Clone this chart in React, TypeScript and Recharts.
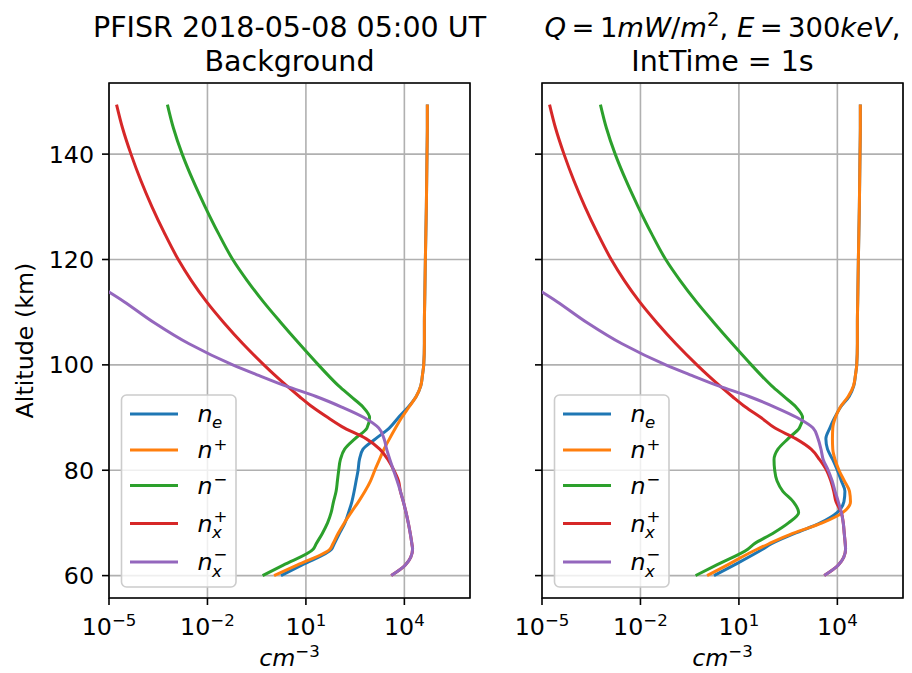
import React from 'react';
import { LineChart, Line, XAxis, YAxis, CartesianGrid, ReferenceArea } from 'recharts';

// Altitude grid (km)
const altitudes = [60, 62, 65, 66, 68, 70, 72, 74, 76, 78, 80, 82, 84, 86, 88, 90, 92, 94, 96, 98, 100, 104, 108, 112, 116, 120, 125, 130, 135, 140, 145, 149.4];

// Values, stored as log10(cm^-3)
// Left panel: PFISR background
const leftNe = [0.24, 0.87, 1.78, 1.86, 2.02, 2.19, 2.30, 2.40, 2.47, 2.53, 2.59, 2.63, 2.74, 3.13, 3.54, 3.82, 4.12, 4.36, 4.50, 4.55, 4.59, 4.61, 4.61, 4.62, 4.63, 4.64, 4.655, 4.67, 4.68, 4.69, 4.70, 4.70];
const leftNi = [0.03, 0.73, 1.73, 1.82, 1.98, 2.17, 2.38, 2.60, 2.80, 2.97, 3.10, 3.24, 3.38, 3.55, 3.73, 3.92, 4.14, 4.36, 4.50, 4.55, 4.59, 4.61, 4.61, 4.62, 4.63, 4.64, 4.655, 4.67, 4.68, 4.69, 4.70, 4.70];
const leftNm = [-0.32, 0.31, 1.22, 1.31, 1.50, 1.66, 1.77, 1.84, 1.92, 1.96, 2.00, 2.05, 2.18, 2.50, 2.86, 2.94, 2.74, 2.37, 2.00, 1.68, 1.38, 0.80, 0.24, -0.30, -0.79, -1.23, -1.67, -2.07, -2.44, -2.77, -3.04, -3.22];
const leftNxp = [3.60, 4.03, 4.25, 4.23, 4.18, 4.12, 4.05, 3.97, 3.88, 3.82, 3.68, 3.50, 3.25, 2.83, 2.18, 1.67, 1.20, 0.80, 0.42, 0.06, -0.28, -0.92, -1.50, -2.03, -2.49, -2.89, -3.31, -3.69, -4.03, -4.33, -4.59, -4.77];
const leftNxm = [3.60, 4.03, 4.25, 4.23, 4.18, 4.12, 4.05, 3.97, 3.88, 3.78, 3.67, 3.56, 3.46, 3.38, 3.22, 2.77, 2.09, 1.31, 0.38, -0.44, -1.23, -2.56, -3.62, -4.54, -5.55, -6.5, -7.75, -9.0, -10.25, -11.5, -12.65, -13.8];

// Right panel: Q = 1 mW/m^2, E = 300 keV
const rightNe = [0.24, 0.85, 1.72, 1.98, 2.70, 3.48, 4.00, 4.20, 4.23, 4.12, 4.00, 3.86, 3.70, 3.65, 3.77, 3.92, 4.10, 4.36, 4.50, 4.55, 4.59, 4.61, 4.61, 4.62, 4.63, 4.64, 4.655, 4.67, 4.68, 4.69, 4.70, 4.70];
const rightNi = [0.03, 0.64, 1.55, 1.90, 2.64, 3.54, 4.17, 4.40, 4.37, 4.21, 4.05, 3.93, 3.86, 3.85, 3.86, 3.94, 4.09, 4.33, 4.49, 4.55, 4.59, 4.61, 4.61, 4.62, 4.63, 4.64, 4.655, 4.67, 4.68, 4.69, 4.70, 4.70];
const rightNm = [-0.32, 0.31, 1.27, 1.46, 2.03, 2.51, 2.82, 2.66, 2.34, 2.16, 2.09, 2.07, 2.19, 2.50, 2.84, 2.94, 2.74, 2.37, 2.00, 1.68, 1.38, 0.80, 0.24, -0.30, -0.79, -1.23, -1.67, -2.07, -2.44, -2.77, -3.04, -3.22];
const rightNxp = [3.60, 4.03, 4.25, 4.24, 4.21, 4.18, 4.12, 3.96, 3.89, 3.80, 3.67, 3.46, 3.20, 2.73, 2.10, 1.67, 1.20, 0.80, 0.42, 0.06, -0.28, -0.92, -1.50, -2.03, -2.49, -2.89, -3.31, -3.69, -4.03, -4.33, -4.59, -4.77];
const rightNxm = [3.60, 4.03, 4.25, 4.24, 4.21, 4.18, 4.12, 4.03, 3.93, 3.84, 3.72, 3.57, 3.50, 3.41, 3.26, 2.77, 2.09, 1.31, 0.38, -0.44, -1.23, -2.56, -3.62, -4.54, -5.55, -6.5, -7.75, -9.0, -10.25, -11.5, -12.65, -13.8];

const xTicks = [1e-5, 1e-2, 1e1, 1e4];
const xTickExponents = ['\u22125', '\u22122', '1', '4'];
const yTicks = [60, 80, 100, 120, 140];
const xDomain = [1e-5, 1e6];
const yDomain = [55.75, 153.5];

const seriesKeys = ['ne', 'ni', 'nm', 'nxp', 'nxm'];
const seriesColors = ['#1f77b4', '#ff7f0e', '#2ca02c', '#d62728', '#9467bd'];
const legendLabels = [
  { sub: 'e', sup: '' },
  { sub: '', sup: '+' },
  { sub: '', sup: '\u2212' },
  { sub: 'x', sup: '+' },
  { sub: 'x', sup: '\u2212' },
];

const FONT = "'DejaVu Sans', sans-serif";
const FS = 23.75;
const FS_SMALL = 16.6;

function buildRows(series: number[][]) {
  return altitudes.map((alt, i) => {
    const row: any = { alt };
    seriesKeys.forEach((k, j) => {
      row[k] = Math.pow(10, series[j][i]);
    });
    return row;
  });
}

const leftRows = buildRows([leftNe, leftNi, leftNm, leftNxp, leftNxm]);
const rightRows = buildRows([rightNe, rightNi, rightNm, rightNxp, rightNxm]);

const XTick = (props: any) => {
  const { x, y, index } = props;
  return (
    <text x={x} y={y + 28} textAnchor="middle" fontFamily={FONT} fontSize={FS} fill="#000">
      <tspan>10</tspan>
      <tspan dy={-9} fontSize={FS_SMALL}>{xTickExponents[index]}</tspan>
    </text>
  );
};

const YTick = (props: any) => {
  const { x, y, payload } = props;
  return (
    <text x={x - 6} y={y + 8.5} textAnchor="end" fontFamily={FONT} fontSize={FS} fill="#000">
      {payload.value}
    </text>
  );
};

const NoTick = () => <g />;

function Panel({ rows, left, width, showYLabels }: any) {
  const rightMargin = width - 49 - 60 - 361;
  return (
    <div style={{ position: 'absolute', left, top: 0 }}>
      <LineChart
        width={width}
        height={673}
        data={rows}
        layout="vertical"
        margin={{ top: 83, right: rightMargin, bottom: 15, left: 49 }}
      >
        <CartesianGrid stroke="#b0b0b0" strokeWidth={1.6} />
        <XAxis
          type="number"
          scale="log"
          domain={xDomain}
          allowDataOverflow
          ticks={xTicks}
          interval={0}
          tick={<XTick />}
          tickSize={7}
          tickLine={{ stroke: '#000', strokeWidth: 1.6 }}
          axisLine={false}
          height={60}
        />
        <YAxis
          type="number"
          dataKey="alt"
          domain={yDomain}
          reversed
          allowDataOverflow
          ticks={yTicks}
          interval={0}
          tick={showYLabels ? <YTick /> : <NoTick />}
          tickSize={7}
          tickLine={{ stroke: '#000', strokeWidth: 1.6 }}
          axisLine={false}
          width={60}
        />
        {seriesKeys.map((k, j) => (
          <Line
            key={k}
            dataKey={k}
            type="monotone"
            stroke={seriesColors[j]}
            strokeWidth={3}
            dot={false}
            activeDot={false}
            isAnimationActive={false}
          />
        ))}
        <ReferenceArea
          x1={xDomain[0]}
          x2={xDomain[1]}
          y1={yDomain[0]}
          y2={yDomain[1]}
          fill="none"
          fillOpacity={0}
          stroke="#000"
          strokeWidth={1.6}
          strokeOpacity={1}
          ifOverflow="visible"
        />
      </LineChart>
    </div>
  );
}

function LegendBox({ pl }: { pl: number }) {
  const handleY = [414, 450, 485.5, 523.5, 562];
  return (
    <g>
      <rect x={pl + 12.5} y={395} width={114.5} height={192} rx={5} ry={5}
        fill="#ffffff" fillOpacity={0.8} stroke="#cccccc" strokeWidth={1.6} />
      {legendLabels.map((lab, i) => {
        const hy = handleY[i];
        const by = hy + 8;
        const tx = pl + 88.5;
        const nx = tx + 15.6;
        return (
          <g key={i}>
            <line x1={pl + 21} x2={pl + 69} y1={hy} y2={hy} stroke={seriesColors[i]} strokeWidth={3} />
            <text x={tx} y={by} fontFamily={FONT} fontSize={FS} fontStyle="italic" fill="#000">n</text>
            {lab.sub && (
              <text x={nx - 1} y={by + (lab.sup ? 6.5 : 6)} fontFamily={FONT} fontSize={FS_SMALL} fontStyle="italic" fill="#000">{lab.sub}</text>
            )}
            {lab.sup && (
              <text x={nx + 0.5} y={by - (lab.sub ? 10 : 8.5)} fontFamily={FONT} fontSize={FS_SMALL} fill="#000">{lab.sup}</text>
            )}
          </g>
        );
      })}
    </g>
  );
}

export default function App() {
  const leftCenter = 109 + 361 / 2;
  const rightCenter = 542 + 361 / 2;
  return (
    <div style={{ position: 'absolute', left: 0, top: 0, width: 912, height: 673, overflow: 'hidden', background: '#fff' }}>
      <Panel rows={leftRows} left={0} width={480} showYLabels={true} />
      <Panel rows={rightRows} left={433} width={479} showYLabels={false} />
      <svg width={912} height={673} style={{ position: 'absolute', left: 0, top: 0, pointerEvents: 'none' }}>
        {/* Titles */}
        <text x={leftCenter} y={37} textAnchor="middle" fontFamily={FONT} fontSize={28.5} fill="#000">PFISR 2018-05-08 05:00 UT</text>
        <text x={leftCenter} y={71} textAnchor="middle" fontFamily={FONT} fontSize={28.5} fill="#000">Background</text>
        <text x={rightCenter} y={37} textAnchor="middle" fontFamily={FONT} fontSize={27.4} fill="#000">
          <tspan fontStyle="italic">Q</tspan>
          <tspan>{'\u2009=\u20091'}</tspan>
          <tspan fontStyle="italic">mW</tspan>
          <tspan>/</tspan>
          <tspan fontStyle="italic">m</tspan>
          <tspan dy={-11} fontSize={19.5}>2</tspan>
          <tspan dy={11}>, </tspan>
          <tspan fontStyle="italic">E</tspan>
          <tspan>{'\u2009=\u2009300'}</tspan>
          <tspan fontStyle="italic">keV</tspan>
          <tspan>,</tspan>
        </text>
        <text x={rightCenter} y={71} textAnchor="middle" fontFamily={FONT} fontSize={28.5} fill="#000">IntTime = 1s</text>

        {/* Axis labels */}
        <text transform={`translate(33, 340.5) rotate(-90)`} textAnchor="middle" fontFamily={FONT} fontSize={FS} fill="#000">Altitude (km)</text>
        {[leftCenter, rightCenter].map((cx, i) => (
          <text key={i} x={cx} y={666} textAnchor="middle" fontFamily={FONT} fontSize={FS} fill="#000">
            <tspan fontStyle="italic">cm</tspan>
            <tspan dy={-9} fontSize={FS_SMALL}>{'\u22123'}</tspan>
          </text>
        ))}

        <LegendBox pl={109} />
        <LegendBox pl={542} />
      </svg>
    </div>
  );
}
